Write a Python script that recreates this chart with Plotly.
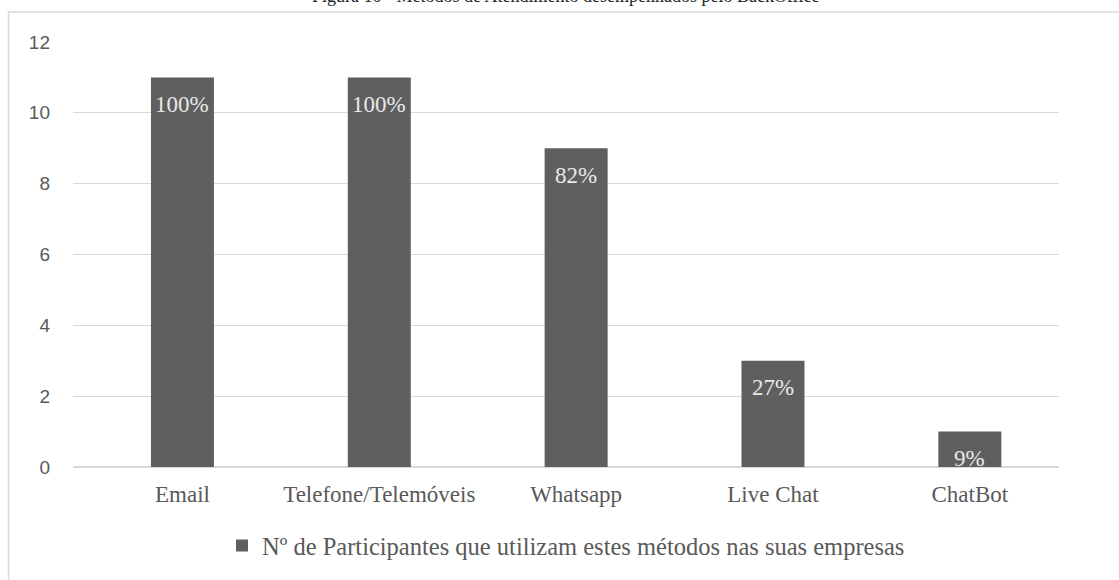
import plotly.graph_objects as go

categories = ["Email", "Telefone/Telemóveis", "Whatsapp", "Live Chat", "ChatBot"]
participants = [11, 11, 9, 3, 1]
pct_labels = ["100%", "100%", "82%", "27%", "9%"]
series_name = "Nº de Participantes que utilizam estes métodos nas suas empresas"
title_text = "Figura 10 - Métodos de Atendimento desempenhados pelo BackOffice"
y_ticks = [0, 2, 4, 6, 8, 10, 12]

BAR = "#5f5f5f"
GRID = "#d9d9d9"
TXT = "#595959"
SERIF = "Liberation Serif, Times New Roman, serif"
SANS = "Liberation Sans, Arial, sans-serif"

fig = go.Figure()
fig.add_trace(go.Bar(
    x=categories, y=participants, name=series_name,
    marker=dict(color=BAR, line=dict(width=0)),
    showlegend=True,
))

for c, v, t in zip(categories, participants, pct_labels):
    fig.add_annotation(x=c, y=v, xref="x", yref="y", text=t, showarrow=False,
                       yanchor="middle", yshift=-27,
                       font=dict(family=SERIF, size=23, color="#e8e8e8"))

fig.add_annotation(x=0.5, y=1, xref="paper", yref="paper", text=title_text,
                   showarrow=False, yanchor="bottom", yshift=34,
                   font=dict(family=SERIF, size=18, color="#222222"))

# outer chart border
fig.add_shape(type="rect", xref="paper", yref="paper",
              x0=-0.0654, x1=1.08, y0=-0.3, y1=1.0703,
              line=dict(color=GRID, width=1.5), fillcolor="rgba(0,0,0,0)", layer="below")

fig.update_layout(
    width=1119, height=580,
    margin=dict(l=73, r=60, t=42, b=111),
    paper_bgcolor="white", plot_bgcolor="white",
    bargap=0.68,
    showlegend=True,
    legend=dict(orientation="h", x=0.5, xanchor="center", y=-0.185, yanchor="middle",
                font=dict(family=SERIF, size=24.5, color=TXT), itemwidth=30),
    xaxis=dict(type="category", range=[-0.556, 4.453], showgrid=False, ticks="",
               tickfont=dict(family=SERIF, size=23, color=TXT), ticklabelstandoff=11,
               showline=False, fixedrange=True),
    yaxis=dict(range=[0, 12], tickvals=y_ticks, showgrid=True, gridcolor=GRID, gridwidth=1,
               zeroline=True, zerolinecolor=GRID, zerolinewidth=2,
               tickfont=dict(family=SANS, size=19, color=TXT), ticks="",
               ticklabelstandoff=22, showline=False),
)

fig.write_html("out.html")
